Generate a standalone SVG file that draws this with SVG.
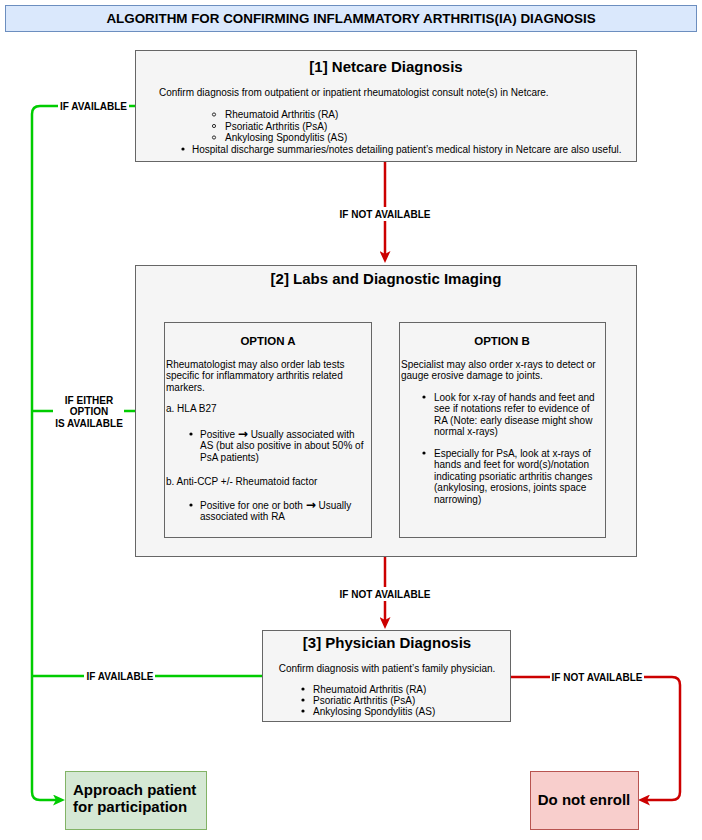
<svg xmlns="http://www.w3.org/2000/svg" width="702" height="840" viewBox="0 0 702 840">
<style>
text{font-family:"Liberation Sans",Arial,Helvetica,sans-serif;fill:#000}
.box{fill:#f5f5f5;stroke:#666666;stroke-width:1}
.t15{font-size:15px;font-weight:bold}
.b{font-size:10px}
.lbl{font-size:10px;font-weight:bold;text-anchor:middle}
.mid{text-anchor:middle}
.g{fill:none;stroke:#00CC00;stroke-width:2.5}
.r{fill:none;stroke:#CC0000;stroke-width:2.5}
.bg{fill:#ffffff}
.dot{fill:#000}
.hol{fill:none;stroke:#000;stroke-width:0.8}
.arw{font-family:"DejaVu Sans",sans-serif;font-weight:bold;font-size:12px}
</style>
<defs>
<marker id="ar" markerUnits="userSpaceOnUse" markerWidth="12" markerHeight="11" refX="3" refY="5.5" orient="auto"><path d="M0,0 L12,5.5 L0,11 L3,5.5 Z" fill="#CC0000"/></marker>
<marker id="ag" markerUnits="userSpaceOnUse" markerWidth="12" markerHeight="11" refX="3" refY="5.5" orient="auto"><path d="M0,0 L12,5.5 L0,11 L3,5.5 Z" fill="#00CC00"/></marker>
</defs>
<rect width="702" height="840" fill="#ffffff"/>

<g id="title">
<rect x="5.5" y="5.5" width="691" height="26" fill="#dae8fc" stroke="#6c8ebf"/>
<text x="351" y="22.5" class="mid" font-size="13.4" font-weight="bold">ALGORITHM FOR CONFIRMING INFLAMMATORY ARTHRITIS(IA) DIAGNOSIS</text>
</g>

<g id="connectors">
<path class="g" d="M135,106 H40 Q32,106 32,114 V792 Q32,800 40,800 H56" marker-end="url(#ag)"/>
<path class="g" d="M135,411 H32"/>
<path class="g" d="M262,676 H32"/>
<path class="r" d="M385,162 V254" marker-end="url(#ar)"/>
<path class="r" d="M385,557 V620" marker-end="url(#ar)"/>
<path class="r" d="M511,677 H672 Q680,677 680,685 V792 Q680,800 672,800 H647" marker-end="url(#ar)"/>
<rect class="bg" x="58" y="99" width="71" height="14"/>
<text class="lbl" x="93.5" y="109.5">IF AVAILABLE</text>
<rect class="bg" x="53" y="393" width="71" height="37"/>
<text class="lbl" x="89" y="403.5">IF EITHER</text>
<text class="lbl" x="89" y="415">OPTION</text>
<text class="lbl" x="89" y="426.5">IS AVAILABLE</text>
<rect class="bg" x="84" y="669" width="71" height="14"/>
<text class="lbl" x="120" y="679.5">IF AVAILABLE</text>
<rect class="bg" x="338" y="207" width="94" height="14"/>
<text class="lbl" x="385" y="217.5">IF NOT AVAILABLE</text>
<rect class="bg" x="338" y="587" width="94" height="14"/>
<text class="lbl" x="385" y="597.5">IF NOT AVAILABLE</text>
<rect class="bg" x="550" y="670" width="94" height="14"/>
<text class="lbl" x="597" y="680.5">IF NOT AVAILABLE</text>
</g>

<g id="netcare">
<rect class="box" x="135.5" y="50.5" width="501" height="111"/>
<text class="t15 mid" x="386" y="72">[1] Netcare Diagnosis</text>
<text class="b" x="159" y="96">Confirm diagnosis from outpatient or inpatient rheumatologist consult note(s) in Netcare.</text>
<circle class="hol" cx="214" cy="114.5" r="1.6"/>
<circle class="hol" cx="214" cy="126" r="1.6"/>
<circle class="hol" cx="214" cy="137.5" r="1.6"/>
<text class="b" x="225" y="118">Rheumatoid Arthritis (RA)</text>
<text class="b" x="225" y="129.5">Psoriatic Arthritis (PsA)</text>
<text class="b" x="225" y="141">Ankylosing Spondylitis (AS)</text>
<circle class="dot" cx="183" cy="149" r="1.6"/>
<text class="b" x="192" y="152.5">Hospital discharge summaries/notes detailing patient’s medical history in Netcare are also useful.</text>
</g>

<g id="labs">
<rect class="box" x="135.5" y="265.5" width="501" height="291"/>
<text class="t15 mid" x="386" y="283.6">[2] Labs and Diagnostic Imaging</text>
</g>

<g id="optionA">
<rect class="box" x="164.5" y="322.5" width="207" height="215"/>
<text class="mid" x="268" y="345" font-size="11.5" font-weight="bold">OPTION A</text>
<text class="b" x="166" y="367.5">Rheumatologist may also order lab tests</text>
<text class="b" x="166" y="379">specific for inflammatory arthritis related</text>
<text class="b" x="166" y="390.5">markers.</text>
<text class="b" x="166" y="411.5">a. HLA B27</text>
<circle class="dot" cx="191" cy="434" r="1.6"/>
<text class="b" x="200" y="437.5">Positive <tspan class="arw">→</tspan> Usually associated with</text>
<text class="b" x="200" y="449">AS (but also positive in about 50% of</text>
<text class="b" x="200" y="460.5">PsA patients)</text>
<text class="b" x="166" y="484.5">b. Anti-CCP +/- Rheumatoid factor</text>
<circle class="dot" cx="191" cy="505" r="1.6"/>
<text class="b" x="200" y="508.5">Positive for one or both <tspan class="arw">→</tspan> Usually</text>
<text class="b" x="200" y="520">associated with RA</text>
</g>

<g id="optionB">
<rect class="box" x="399.5" y="322.5" width="206" height="215"/>
<text class="mid" x="502" y="345" font-size="11.5" font-weight="bold">OPTION B</text>
<text class="b" x="401" y="367.5">Specialist may also order x-rays to detect or</text>
<text class="b" x="401" y="379">gauge erosive damage to joints.</text>
<circle class="dot" cx="424" cy="397" r="1.6"/>
<text class="b" x="434" y="400.5">Look for x-ray of hands and feet and</text>
<text class="b" x="434" y="412">see if notations refer to evidence of</text>
<text class="b" x="434" y="423.5">RA (Note: early disease might show</text>
<text class="b" x="434" y="435">normal x-rays)</text>
<circle class="dot" cx="424" cy="453" r="1.6"/>
<text class="b" x="434" y="456.5">Especially for PsA, look at x-rays of</text>
<text class="b" x="434" y="468">hands and feet for word(s)/notation</text>
<text class="b" x="434" y="479.5">indicating psoriatic arthritis changes</text>
<text class="b" x="434" y="491">(ankylosing, erosions, joints space</text>
<text class="b" x="434" y="503">narrowing)</text>
</g>

<g id="physician">
<rect class="box" x="262.5" y="630.5" width="248" height="91"/>
<text class="t15 mid" x="387" y="648.3">[3] Physician Diagnosis</text>
<text class="b mid" x="387" y="671.5">Confirm diagnosis with patient’s family physician.</text>
<circle class="dot" cx="303" cy="689" r="1.6"/>
<circle class="dot" cx="303" cy="700" r="1.6"/>
<circle class="dot" cx="303" cy="711" r="1.6"/>
<text class="b" x="313" y="692.5">Rheumatoid Arthritis (RA)</text>
<text class="b" x="313" y="703.5">Psoriatic Arthritis (PsA)</text>
<text class="b" x="313" y="714.5">Ankylosing Spondylitis (AS)</text>
</g>

<g id="approach">
<rect x="65.5" y="771.5" width="141" height="58" fill="#d5e8d4" stroke="#82b366"/>
<text x="73" y="795.3" class="t15">Approach patient</text>
<text x="73" y="812.3" class="t15">for participation</text>
</g>

<g id="notenroll">
<rect x="530.5" y="771.5" width="108" height="58" fill="#f8cecc" stroke="#b85450"/>
<text x="584" y="805.3" class="t15 mid">Do not enroll</text>
</g>
</svg>
